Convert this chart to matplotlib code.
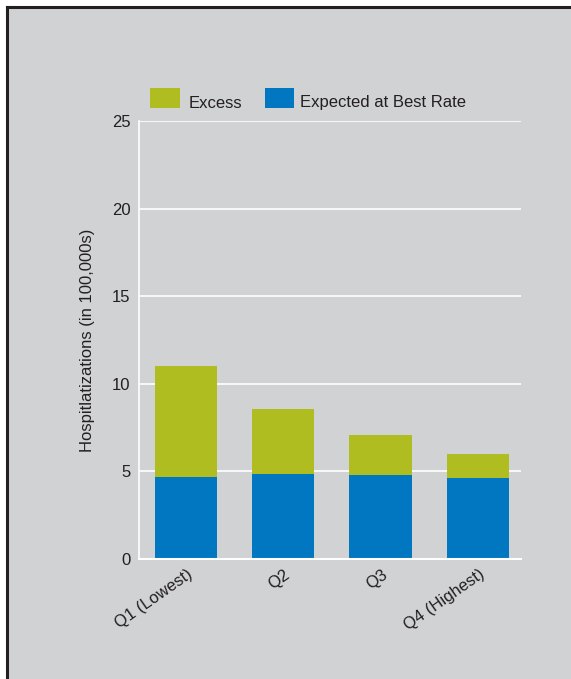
import matplotlib
matplotlib.use('Agg')
import matplotlib.pyplot as plt
from matplotlib.patches import Rectangle
from matplotlib.lines import Line2D
import matplotlib.transforms as mtransforms

plt.rcParams['font.family'] = ['Liberation Sans', 'DejaVu Sans']

# datos (en 100,000s)
cuartiles = ['Q1 (Lowest)', 'Q2', 'Q3', 'Q4 (Highest)']
esperado = [4.66, 4.83, 4.77, 4.60]
total = [11.02, 8.55, 7.05, 5.97]
exceso = [t - e for t, e in zip(total, esperado)]
series = ['Excess', 'Expected at Best Rate']

gris = '#D1D2D4'
verde = '#AFBD21'
azul = '#0077C0'
texto = '#231F20'

W, H = 571, 679
fig = plt.figure(figsize=(W / 100, H / 100), dpi=100, facecolor='white')


def px(x, y):
    # pixeles (desde arriba a la izquierda) a fraccion de figura
    return x / W, 1 - y / H


# fondo gris con borde arriba e izquierda
x0 = 6.5 / W
y1 = 1 - 6.5 / H
fig.add_artist(Rectangle((x0, 0), 1 - x0, y1, transform=fig.transFigure,
                         facecolor=gris, edgecolor='none', zorder=0))
fig.add_artist(Line2D([x0, 1], [y1, y1], transform=fig.transFigure, color=texto, lw=2.2))
fig.add_artist(Line2D([x0, x0], [0, y1], transform=fig.transFigure, color=texto, lw=2.2))

ax = fig.add_axes([139 / W, 1 - 559 / H, 382 / W, 438 / H])
ax.set_facecolor(gris)

x = range(len(cuartiles))
ancho = 0.64
ax.bar(x, exceso, ancho, bottom=esperado, color=verde, zorder=3)
ax.bar(x, esperado, ancho, color=azul, zorder=3)

ax.set_xlim(-0.48, 3.44)
ax.set_ylim(0, 25)
ax.set_yticks([0, 5, 10, 15, 20, 25])
ax.yaxis.grid(True, color='white', lw=1.2, zorder=1)

for s in ['top', 'right']:
    ax.spines[s].set_visible(False)
ax.spines['left'].set_color('white')
ax.spines['bottom'].set_color('white')
ax.spines['left'].set_linewidth(1.2)
ax.spines['bottom'].set_linewidth(1.5)
ax.spines['bottom'].set_zorder(4)

ax.tick_params(axis='both', length=0, labelsize=12, labelcolor=texto)
ax.tick_params(axis='y', pad=6)
ax.set_xticks(list(x))
ax.set_xticklabels(cuartiles, rotation=35, ha='right', rotation_mode='anchor')
desplazar = mtransforms.ScaledTranslation(1 / 100, -3 / 100, fig.dpi_scale_trans)
for lab in ax.get_xticklabels():
    lab.set_transform(lab.get_transform() + desplazar)

ax.set_ylabel('Hospitlatizations (in 100,000s)', fontsize=12, color=texto, labelpad=12)

# leyenda a mano: cuadros y texto alineados abajo
for (cx, tx), color, nombre in zip([(150, 189), (265, 300)], [verde, azul], series):
    fig.add_artist(Rectangle(px(cx, 108), 29.5 / W, 20 / H, transform=fig.transFigure,
                             facecolor=color, edgecolor='none'))
    fig.text(*px(tx, 107.5), nombre, fontsize=12, color=texto, va='baseline', ha='left')

fig.savefig('out.png', dpi=100, facecolor='white')
